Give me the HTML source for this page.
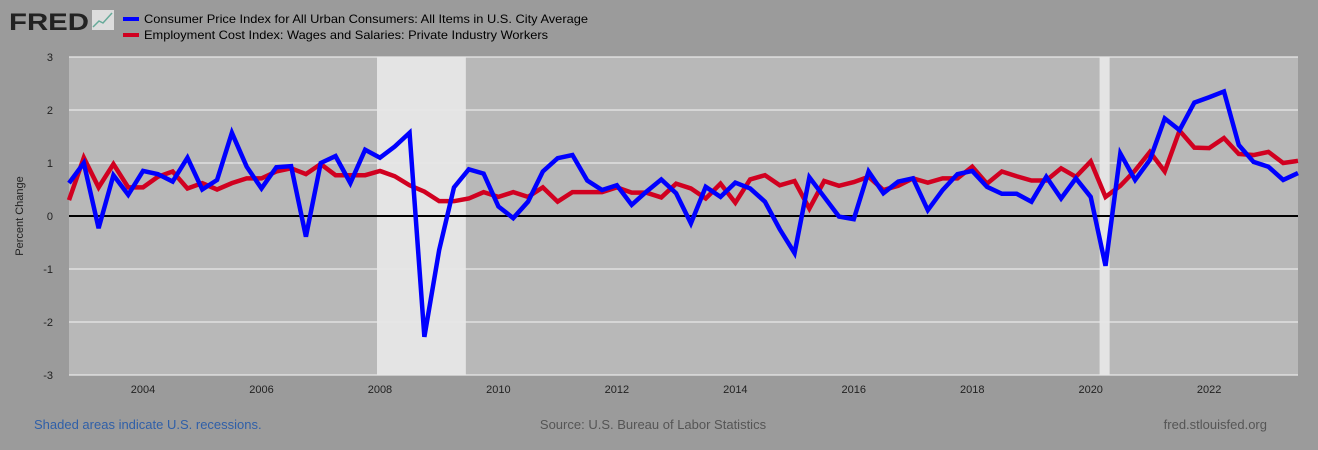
<!DOCTYPE html>
<html><head><meta charset="utf-8"><style>
body{margin:0;width:1318px;height:450px;background:#9b9b9b;font-family:"Liberation Sans",sans-serif;overflow:hidden;position:relative}
svg{position:absolute;left:0;top:0}
</style></head><body>
<svg id="c" width="1318" height="450">
<text x="9" y="30" font-size="24" font-weight="bold" fill="#222" textLength="80" lengthAdjust="spacingAndGlyphs">FRED</text>
<rect x="92" y="10" width="22" height="20" fill="#ddd"/>
<polyline points="93,27 99,21 103,23 112,13" fill="none" stroke="#6a9" stroke-width="1.5"/>
<rect x="123" y="17" width="16" height="4" fill="#0000ff"/>
<text x="144" y="23" font-size="12" fill="#000" textLength="444" lengthAdjust="spacingAndGlyphs">Consumer Price Index for All Urban Consumers: All Items in U.S. City Average</text>
<rect x="123" y="33" width="16" height="4" fill="#d10020"/>
<text x="144" y="39" font-size="12" fill="#000" textLength="404" lengthAdjust="spacingAndGlyphs">Employment Cost Index: Wages and Salaries: Private Industry Workers</text>
<rect x="69" y="57" width="1229" height="318" fill="#b8b8b8"/>
<g id="rec"></g><g id="grid"></g><g id="xt"></g><g id="lines"></g>
<text transform="translate(23,216) rotate(-90)" text-anchor="middle" font-size="11" fill="#222">Percent Change</text>
<text x="34" y="429" font-size="13" fill="#2f5fa8">Shaded areas indicate U.S. recessions.</text>
<text x="653" y="429" text-anchor="middle" font-size="13" fill="#555">Source: U.S. Bureau of Labor Statistics</text>
<text x="1267" y="429" text-anchor="end" font-size="13" fill="#555">fred.stlouisfed.org</text>
</svg>
<script>
const startYear = 2002.75;
const cpi = [0.62,1.0,-0.23,0.77,0.4,0.85,0.79,0.65,1.1,0.5,0.68,1.57,0.93,0.52,0.92,0.94,-0.39,1.0,1.13,0.62,1.25,1.1,1.31,1.57,-2.28,-0.64,0.54,0.88,
0.8,0.18,-0.04,0.27,0.84,1.09,1.15,0.67,0.49,0.58,0.21,0.46,0.69,0.43,-0.14,0.55,0.36,0.63,0.52,0.27,-0.25,-0.7,0.73,0.36,-0.01,-0.06,
0.84,0.43,0.65,0.71,0.11,0.49,0.79,0.85,0.55,0.42,0.42,0.27,0.74,0.33,0.71,0.36,-0.94,1.18,0.68,1.06,1.84,1.62,2.14,2.24,2.35,1.34,1.02,0.93,0.68,0.81];
const eci = [0.3,1.1,0.54,0.98,0.54,0.54,0.74,0.84,0.52,0.62,0.5,0.62,0.71,0.71,0.84,0.9,0.79,0.98,0.77,0.77,0.77,0.85,0.75,0.58,0.46,0.28,0.28,0.33,
0.45,0.36,0.45,0.36,0.54,0.27,0.45,0.45,0.45,0.54,0.44,0.44,0.35,0.61,0.52,0.33,0.61,0.25,0.69,0.77,0.58,0.66,0.14,0.66,0.57,0.64,
0.74,0.49,0.57,0.71,0.63,0.71,0.71,0.93,0.61,0.84,0.75,0.67,0.67,0.9,0.74,1.03,0.36,0.57,0.86,1.21,0.84,1.61,1.29,1.28,1.47,1.17,1.15,1.21,1.0,1.04];
const yTicks = [-3,-2,-1,0,1,2,3];
const xTicks = [2004,2006,2008,2010,2012,2014,2016,2018,2020,2022];
const recessions = [[2007.95,2009.45],[2020.15,2020.32]];
const L=69,R=1298,T=57,B=375,N=cpi.length;
const xs=t=>L+(t-startYear)*4*(R-L)/(N-1);
const xi=i=>L+i*(R-L)/(N-1);
const y=v=>T+(3-v)*(B-T)/6;
const NS='http://www.w3.org/2000/svg';
function mk(tag,parent,attrs){const e=document.createElementNS(NS,tag);for(const k in attrs)e.setAttribute(k,attrs[k]);document.getElementById(parent).appendChild(e);return e;}
recessions.forEach(r=>{const e=mk('rect','rec',{x:xs(r[0]),y:T,width:xs(r[1])-xs(r[0]),height:B-T,fill:'#e4e4e4'});

});
yTicks.forEach(v=>{const g=mk('line','grid',{x1:L,x2:R,y1:y(v),y2:y(v),stroke:v===0?'#000':'#e8e8e8','stroke-width':v===0?2:1.2});


const t=mk('text','grid',{x:53,y:y(v)+4,'text-anchor':'end','font-size':11,fill:'#222'});t.textContent=v;

});
xTicks.forEach(yr=>{const t=mk('text','xt',{x:xs(yr),y:393,'text-anchor':'middle','font-size':11,fill:'#222'});t.textContent=yr;

});
[[eci,'#d10020','eci-line'],[cpi,'#0000ff','cpi-line']].forEach(s=>{
const p=mk('polyline','lines',{points:s[0].map((v,i)=>xi(i)+','+y(v)).join(' '),fill:'none',stroke:s[1],'stroke-width':4.5,'stroke-linejoin':'miter'});

});
</script>
</body></html>
